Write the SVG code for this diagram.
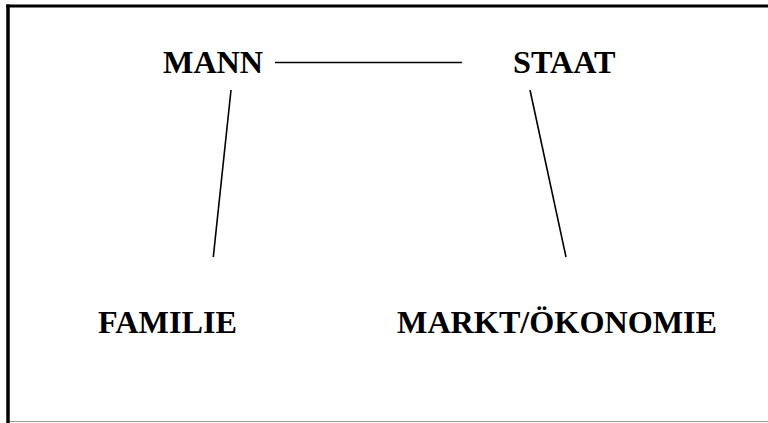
<svg xmlns="http://www.w3.org/2000/svg" width="768" height="423" viewBox="0 0 768 423">
<style>
.t{font-family:"Liberation Serif","Times New Roman",serif;font-weight:bold;font-size:32.2px;fill:#000}
.c{stroke:#000;stroke-width:1.6;fill:none}
</style>
<rect width="768" height="423" fill="#fff"/>
<g id="frame">
<line x1="8" y1="4.5" x2="8" y2="423" stroke="#000" stroke-width="3.5"/>
<line x1="6.3" y1="6" x2="768" y2="6" stroke="#000" stroke-width="3"/>
<line x1="10" y1="421.5" x2="768" y2="421.5" stroke="#999" stroke-width="1"/>
</g>
<g id="connectors">
<line class="c" x1="275" y1="62.5" x2="462" y2="62.5"/>
<line class="c" x1="231" y1="90" x2="213.3" y2="257"/>
<line class="c" x1="530" y1="90" x2="566" y2="257"/>
</g>
<g id="mann"><text class="t" x="163" y="73">MANN</text></g>
<g id="staat"><text class="t" x="513" y="73">STAAT</text></g>
<g id="familie"><text class="t" x="98" y="333">FAMILIE</text></g>
<g id="markt"><text class="t" x="397" y="333">MARKT/ÖKONOMIE</text></g>
</svg>
